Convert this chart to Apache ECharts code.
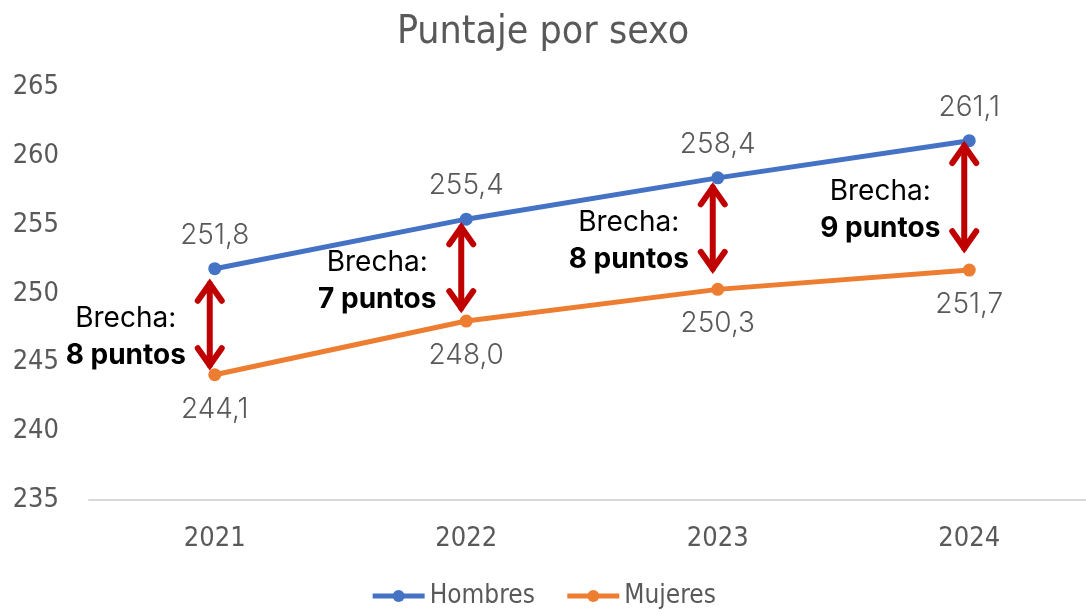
<!DOCTYPE html>
<html>
<head>
<meta charset="utf-8">
<script src="https://cdn.jsdelivr.net/npm/echarts@6/dist/echarts.min.js"></script>
<style>
  html, body { margin: 0; padding: 0; background: #fff; }
  #chartSexo { width: 1086px; height: 616px; }
</style>
</head>
<body>
<div id="chartSexo"></div>
<script>
  // datos
  var years = ['2021', '2022', '2023', '2024'];
  var hombres = [251.8, 255.4, 258.4, 261.1];
  var mujeres = [244.1, 248.0, 250.3, 251.7];
  // extremos de las flechas de brecha (en puntos)
  var arrowTop = [251.0, 255.1, 258.0, 261.0];
  var arrowBottom = [244.5, 248.65, 251.5, 253.0];

  var narrow = '"Liberation Sans Narrow", "DejaVu Sans Condensed", sans-serif';
  var geo = 'Inter, "Open Sans", sans-serif';

  function fmt(v) {
    return v.toFixed(1).replace('.', ',');
  }

  var gapData = [];
  for (var i = 0; i < years.length; i++) {
    gapData.push([i, arrowTop[i], arrowBottom[i], Math.round(hombres[i] - mujeres[i])]);
  }

  var chart = echarts.init(document.getElementById('chartSexo'));
  chart.setOption({
    animation: false,
    title: {
      text: 'Puntaje por sexo',
      left: 'center',
      top: 8,
      textStyle: { fontFamily: narrow, fontSize: 39, fontWeight: 'normal', color: '#595959' }
    },
    legend: {
      bottom: 2,
      left: 'center',
      itemWidth: 52,
      itemHeight: 15,
      itemGap: 30,
      lineStyle: { width: 5 },
      textStyle: { fontFamily: narrow, fontSize: 26, color: '#595959' },
      data: ['Hombres', 'Mujeres']
    },
    grid: { left: 89, width: 1006, top: 87, bottom: 116, outerBoundsMode: 'none', containLabel: false },
    xAxis: {
      type: 'category',
      data: years,
      axisTick: { show: false },
      axisLine: { lineStyle: { color: '#D9D9D9', width: 2 } },
      axisLabel: { fontFamily: narrow, fontSize: 27, color: '#595959', margin: 25 }
    },
    yAxis: {
      type: 'value',
      min: 235,
      max: 265,
      interval: 5,
      splitLine: { show: false },
      axisLine: { show: false },
      axisTick: { show: false },
      axisLabel: { fontFamily: narrow, fontSize: 27, color: '#595959', margin: 30 }
    },
    series: [
      {
        name: 'Hombres',
        type: 'line',
        data: hombres,
        symbol: 'circle',
        symbolSize: 13,
        itemStyle: { color: '#4472C4' },
        lineStyle: { color: '#4472C4', width: 5 },
        label: {
          show: true, position: 'top', distance: 13,
          formatter: function (p) { return fmt(p.value); },
          fontFamily: geo, fontWeight: 300, fontSize: 28, color: '#595959'
        },
        z: 3
      },
      {
        name: 'Mujeres',
        type: 'line',
        data: mujeres,
        symbol: 'circle',
        symbolSize: 13,
        itemStyle: { color: '#ED7D31' },
        lineStyle: { color: '#ED7D31', width: 5 },
        label: {
          show: true, position: 'bottom', distance: 14,
          formatter: function (p) { return fmt(p.value); },
          fontFamily: geo, fontWeight: 300, fontSize: 28, color: '#595959'
        },
        z: 3
      },
      {
        type: 'custom',
        name: 'brecha',
        data: gapData,
        z: 4,
        renderItem: function (params, api) {
          var p1 = api.coord([api.value(0), api.value(1)]);
          var p2 = api.coord([api.value(0), api.value(2)]);
          var x = p1[0] - 5;
          var y1 = p1[1], y2 = p2[1];
          var red = { stroke: '#C00000', lineWidth: 6, fill: null, lineCap: 'round', lineJoin: 'miter' };
          var mid = (y1 + y2) / 2;
          return {
            type: 'group',
            children: [
              { type: 'line', shape: { x1: x, y1: y1 + 4, x2: x, y2: y2 - 4 }, style: red },
              { type: 'polyline', shape: { points: [[x - 12, y1 + 21], [x, y1 + 4], [x + 12, y1 + 21]] }, style: red },
              { type: 'polyline', shape: { points: [[x - 12, y2 - 21], [x, y2 - 4], [x + 12, y2 - 21]] }, style: red },
              {
                type: 'text',
                style: {
                  x: x - 84,
                  y: mid + 13,
                  align: 'center',
                  verticalAlign: 'middle',
                  text: '{a|Brecha:}\n{b|' + api.value(3) + ' puntos}',
                  rich: {
                    a: { fontFamily: geo, fontSize: 28, fontWeight: 400, color: '#000', lineHeight: 37 },
                    b: { fontFamily: geo, fontSize: 28, fontWeight: 'bold', color: '#000', lineHeight: 37 }
                  }
                }
              }
            ]
          };
        }
      }
    ]
  });
</script>
</body>
</html>
